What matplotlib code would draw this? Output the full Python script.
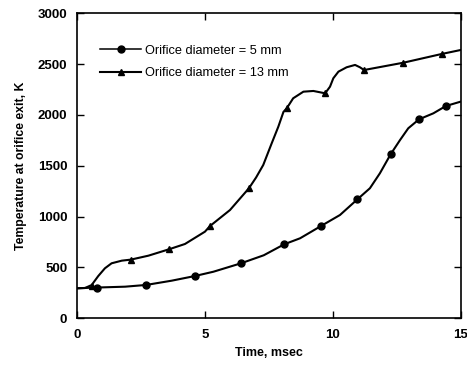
import matplotlib
matplotlib.use("Agg")
import matplotlib.pyplot as plt
from matplotlib.lines import Line2D

plt.rcParams['font.family'] = ['Liberation Sans', 'DejaVu Sans']

# Orifice diameter = 5 mm: traced curve and marked samples
t_5mm_curve = [0.0, 0.57, 1.88, 2.70, 3.70, 4.61, 5.33, 6.41, 7.30, 8.10, 8.72,
               9.54, 10.28, 10.96, 11.45, 11.84, 12.26, 12.63, 12.95, 13.37,
               13.93, 14.42, 15.0]
T_5mm_curve = [295, 301, 311, 328, 370, 416, 458, 541, 620, 728, 787,
               908, 1016, 1170, 1279, 1426, 1613, 1754, 1869, 1957,
               2016, 2088, 2131]
t_5mm_marks = [0.79, 2.70, 4.61, 6.41, 8.10, 9.54, 10.96, 12.26, 13.37, 14.42]
T_5mm_marks = [295, 328, 416, 541, 728, 908, 1170, 1613, 1957, 2088]

# Orifice diameter = 13 mm: traced curve and marked samples
t_13mm_curve = [0.0, 0.31, 0.57, 0.83, 1.09, 1.35, 1.75, 2.10, 2.79, 3.61, 4.22,
                5.0, 5.20, 5.98, 6.72, 7.00, 7.28, 7.61, 7.87, 8.07, 8.20, 8.45,
                8.85, 9.24, 9.70, 9.89, 10.02, 10.22, 10.54, 10.87, 11.06,
                11.22, 12.76, 14.26, 15.0]
T_13mm_curve = [295, 298, 327, 416, 492, 541, 567, 577, 616, 680, 731,
                852, 908, 1065, 1279, 1385, 1508, 1721, 1885, 2030, 2066, 2164,
                2229, 2236, 2213, 2278, 2361, 2426, 2469, 2492, 2469,
                2442, 2514, 2600, 2639]
t_13mm_marks = [0.60, 2.10, 3.61, 5.20, 6.72, 8.20, 9.70, 11.22, 12.76, 14.26]
T_13mm_marks = [318, 577, 680, 908, 1279, 2066, 2213, 2442, 2514, 2600]

x_ticks = [0, 5, 10, 15]
y_ticks = [0, 500, 1000, 1500, 2000, 2500, 3000]

fig = plt.figure(figsize=(4.67, 3.67), dpi=100)
ax = fig.add_axes([0.165, 0.1327, 0.8215, 0.8311])

lw = 1.5
ax.plot(t_5mm_curve, T_5mm_curve, color='black', lw=lw, solid_joinstyle='round')
ax.plot(t_5mm_marks, T_5mm_marks, ls='none', marker='o', ms=5, color='black')
ax.plot(t_13mm_curve, T_13mm_curve, color='black', lw=lw, solid_joinstyle='round')
ax.plot(t_13mm_marks, T_13mm_marks, ls='none', marker='^', ms=5, color='black')

ax.set_xlim(0, 15)
ax.set_ylim(0, 3000)
ax.set_xticks(x_ticks)
ax.set_yticks(y_ticks)
ax.tick_params(direction='in', length=5, width=1, top=True, right=True,
               labelsize=9.5)
ax.tick_params(axis='x', pad=8)
ax.tick_params(axis='y', pad=7)
for lab in ax.get_xticklabels() + ax.get_yticklabels():
    lab.set_fontweight('bold')
for sp in ax.spines.values():
    sp.set_linewidth(1.2)

ax.set_xlabel('Time, msec', fontsize=9, fontweight='bold', labelpad=4)
ax.set_ylabel('Temperature at orifice exit, K', fontsize=8.8,
              fontweight='bold', labelpad=8)

handles = [
    Line2D([], [], color='black', lw=1.1, marker='o', ms=5),
    Line2D([], [], color='black', lw=1.5, marker='^', ms=5),
]
ax.legend(handles, ['Orifice diameter = 5 mm', 'Orifice diameter = 13 mm'],
          loc='upper left', bbox_to_anchor=(0.03, 0.935), frameon=False,
          fontsize=9.2, handlelength=3.2, handletextpad=0.3,
          labelspacing=0.85)

fig.savefig('out.png', dpi=100)
